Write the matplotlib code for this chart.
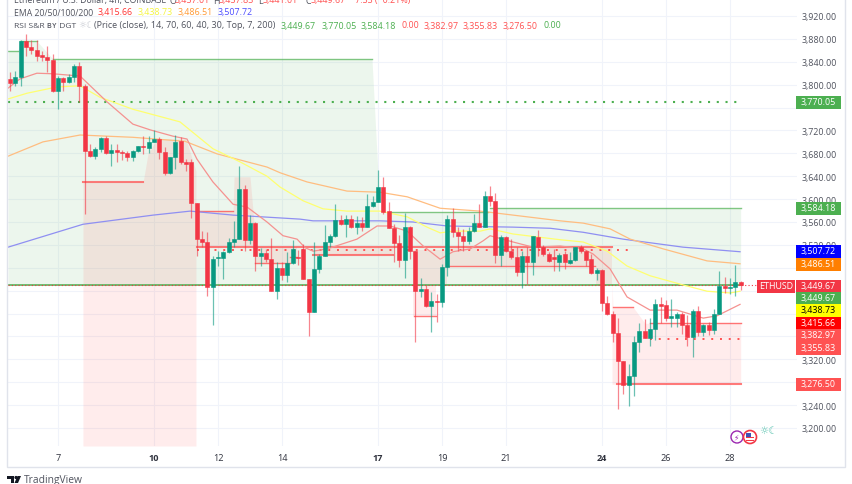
import matplotlib
matplotlib.use("Agg")
import matplotlib.pyplot as plt
from matplotlib.patches import Circle, Polygon, Rectangle
from matplotlib.transforms import Affine2D

# 4h candles, ETHUSD
opens = [3810, 3803, 3813, 3876, 3866, 3861, 3852, 3848, 3843, 3789, 3812, 3805, 3813, 3833, 3798, 3684, 3675, 3688, 3707, 3681,
         3686, 3682, 3681, 3674, 3684, 3693, 3689, 3700, 3705, 3682, 3646, 3674, 3701, 3665, 3665, 3593, 3530, 3525, 3446, 3497,
         3497, 3508, 3525, 3530, 3618, 3529, 3558, 3501, 3506, 3495, 3439, 3480, 3467, 3488, 3499, 3513, 3460, 3403, 3478, 3501,
         3525, 3536, 3563, 3556, 3565, 3551, 3558, 3551, 3588, 3595, 3621, 3579, 3549, 3523, 3494, 3551, 3509, 3439, 3443, 3413,
         3422, 3420, 3481, 3565, 3542, 3536, 3527, 3544, 3558, 3551, 3605, 3597, 3502, 3534, 3509, 3499, 3473, 3501, 3490, 3534,
         3516, 3504, 3499, 3490, 3504, 3488, 3494, 3516, 3509, 3495, 3471, 3476, 3418, 3399, 3366, 3317, 3275, 3291, 3350, 3369,
         3357, 3373, 3417, 3415, 3392, 3392, 3399, 3380, 3359, 3404, 3368, 3380, 3371, 3399, 3448, 3445, 3446, 3455]
highs = [3822, 3824, 3878, 3888, 3878, 3878, 3859, 3868, 3854, 3815, 3813, 3819, 3836, 3840, 3801, 3696, 3691, 3708, 3710, 3696,
         3696, 3686, 3684, 3686, 3693, 3710, 3710, 3721, 3708, 3691, 3674, 3712, 3708, 3670, 3670, 3593, 3544, 3542, 3501, 3509,
         3509, 3532, 3562, 3658, 3625, 3572, 3560, 3515, 3513, 3532, 3490, 3490, 3508, 3529, 3511, 3522, 3460, 3525, 3504, 3555,
         3539, 3591, 3572, 3572, 3572, 3570, 3569, 3609, 3605, 3651, 3639, 3595, 3556, 3537, 3576, 3553, 3509, 3462, 3450, 3438,
         3434, 3487, 3572, 3584, 3551, 3548, 3551, 3574, 3591, 3614, 3623, 3611, 3537, 3536, 3530, 3516, 3509, 3516, 3536, 3546,
         3520, 3508, 3513, 3506, 3509, 3508, 3516, 3520, 3511, 3504, 3480, 3478, 3431, 3404, 3392, 3317, 3312, 3361, 3383, 3390,
         3392, 3425, 3429, 3424, 3425, 3403, 3403, 3397, 3408, 3413, 3382, 3385, 3408, 3474, 3464, 3462, 3485, 3457]
lows = [3789, 3798, 3798, 3850, 3854, 3841, 3841, 3822, 3787, 3757, 3789, 3803, 3805, 3770, 3574, 3674, 3670, 3682, 3679, 3658,
        3665, 3668, 3667, 3667, 3682, 3679, 3681, 3700, 3670, 3642, 3644, 3653, 3661, 3649, 3567, 3501, 3516, 3431, 3380, 3483,
        3460, 3506, 3516, 3530, 3509, 3522, 3474, 3483, 3490, 3439, 3425, 3459, 3455, 3487, 3485, 3460, 3361, 3403, 3471, 3501,
        3516, 3534, 3555, 3534, 3549, 3539, 3544, 3551, 3586, 3595, 3574, 3549, 3490, 3481, 3462, 3495, 3350, 3429, 3411, 3368,
        3385, 3411, 3466, 3534, 3509, 3509, 3522, 3542, 3551, 3551, 3588, 3488, 3483, 3508, 3495, 3466, 3445, 3452, 3467, 3501,
        3501, 3490, 3474, 3474, 3478, 3487, 3492, 3506, 3483, 3469, 3459, 3404, 3397, 3350, 3233, 3259, 3238, 3256, 3333, 3357,
        3343, 3354, 3383, 3387, 3376, 3376, 3364, 3343, 3324, 3361, 3361, 3362, 3364, 3399, 3436, 3434, 3431, 3441]
closes = [3803, 3813, 3876, 3866, 3861, 3850, 3848, 3843, 3789, 3812, 3805, 3813, 3833, 3798, 3684, 3675, 3688, 3707, 3681, 3686,
          3682, 3681, 3674, 3684, 3693, 3691, 3700, 3705, 3682, 3646, 3674, 3700, 3665, 3661, 3593, 3530, 3525, 3446, 3495, 3499,
          3508, 3525, 3530, 3618, 3529, 3558, 3501, 3506, 3495, 3439, 3480, 3467, 3488, 3513, 3497, 3460, 3403, 3478, 3501, 3525,
          3536, 3563, 3556, 3565, 3551, 3558, 3551, 3588, 3595, 3621, 3577, 3549, 3523, 3494, 3551, 3509, 3439, 3443, 3413, 3422,
          3420, 3481, 3565, 3542, 3536, 3527, 3544, 3558, 3551, 3605, 3597, 3502, 3534, 3509, 3499, 3473, 3501, 3490, 3536, 3516,
          3504, 3492, 3495, 3502, 3490, 3494, 3516, 3509, 3494, 3471, 3476, 3418, 3399, 3366, 3317, 3275, 3291, 3350, 3369, 3357,
          3373, 3417, 3413, 3392, 3396, 3399, 3380, 3359, 3404, 3368, 3380, 3371, 3399, 3448, 3445, 3446, 3455, 3449.67]

# EMA lines, x in days of the month
ema20_x = [5.44, 5.81, 6.34, 6.84, 7.69, 8.53, 9.34, 9.88, 10.59, 11.03, 11.34, 11.84, 12.47, 12.91, 13.53, 14.03, 14.47, 14.72, 14.97, 15.41,
           16.34, 16.97, 17.38, 17.91, 18.41, 18.94, 19.34, 19.88, 20.28, 20.5, 21.22, 21.84, 22.69, 23.41, 23.72, 24.25, 24.78, 25.5, 26.34, 27.16, 27.59, 28.31]
ema20_y = [3794, 3810, 3820, 3819, 3815, 3770, 3731, 3721, 3710, 3705, 3670, 3630, 3591, 3586, 3560, 3536, 3530, 3515, 3509, 3513,
           3530, 3553, 3553, 3544, 3518, 3495, 3508, 3513, 3527, 3536, 3525, 3516, 3518, 3513, 3504, 3478, 3429, 3406, 3406, 3392, 3396, 3416]
ema50_x = [5.44, 6.03, 6.97, 7.69, 8.31, 9.34, 10.81, 11.84, 12.69, 13.53, 13.94, 14.66, 15.28, 16.03, 17.06, 17.91, 18.53, 18.94, 19.34, 20.19,
           20.5, 21.22, 22.69, 23.41, 24.16, 24.78, 25.5, 26.53, 27.28, 28.0, 28.31]
ema50_y = [3775, 3785, 3796, 3798, 3778, 3757, 3735, 3688, 3665, 3640, 3621, 3597, 3583, 3579, 3579, 3569, 3551, 3541, 3544, 3544,
           3548, 3539, 3529, 3525, 3509, 3483, 3466, 3450, 3439, 3436, 3439]
ema100_x = [5.44, 6.53, 7.69, 9.34, 10.97, 11.97, 13.53, 13.94, 14.78, 16.03, 17.06, 17.91, 18.94, 20.19, 21.22, 22.69, 23.41, 24.25, 24.88, 25.91, 27.28, 28.31]
ema100_y = [3675, 3700, 3712, 3708, 3701, 3679, 3656, 3646, 3630, 3614, 3612, 3604, 3584, 3579, 3572, 3562, 3558, 3548, 3530, 3513, 3492, 3487]
ema200_x = [5.44, 7.78, 9.97, 11.13, 12.47, 14.56, 14.97, 17.06, 18.09, 19.16, 21.22, 22.38, 23.41, 24.66, 26.53, 28.31]
ema200_y = [3516, 3556, 3572, 3579, 3572, 3565, 3562, 3562, 3560, 3553, 3551, 3549, 3542, 3530, 3516, 3508]

last_price = 3449.67
resistance = 3770.05

# green S&R zone above the last price
green_x = [5.44, 5.75, 5.81, 6.34, 6.84, 16.81, 17.0, 17.03, 20.44, 20.5, 28.33]
green_top = [3859, 3859, 3876, 3876, 3845, 3845, 3642, 3577, 3577, 3584, 3584]

# red zones: x, top, bottom
red_zones = [
    ([7.78, 9.66, 9.81, 10.09, 11.0, 11.31], [3630, 3630, 3679, 3705, 3705, 3649], [3168.5] * 6),
    ([11.31, 12.47, 12.5, 12.63, 13.0, 13.19], [3579, 3579, 3639, 3639, 3639, 3516], [3516] * 6),
    ([13.16, 14.47], [3516, 3516], [3488, 3488]),
    ([14.97, 17.47], [3515, 3515], [3502, 3502]),
    ([18.09, 18.81, 18.81, 19.16], [3511] * 4, [3396, 3396, 3450, 3450]),
    ([19.16, 24.31], [3516, 3516], [3483, 3483]),
    ([23.81, 24.31], [3483, 3483], [3450, 3450]),
    ([24.31, 24.34, 24.97, 25.34, 25.5, 28.33], [3450, 3411, 3411, 3383, 3383, 3383], [3276.5] * 6),
]

# level lines: start day, end day, price
green_levels = [(5.44, 5.75, 3859), (5.81, 6.34, 3876), (6.84, 16.81, 3845), (17.38, 20.44, 3577), (20.5, 28.33, 3584.18)]
red_thin = [(11.34, 12.47, 3579), (13.16, 14.25, 3488), (14.25, 14.47, 3499), (18.13, 18.81, 3396),
            (19.16, 23.78, 3483), (24.34, 24.97, 3411), (25.5, 28.33, 3382.97)]
red_thick = [(7.78, 9.66, 3630), (11.34, 24.31, 3516), (14.97, 17.47, 3502), (24.47, 28.33, 3276.5)]
red_dotted = [(11.34, 24.88, 3511), (25.5, 28.33, 3355.83)]

price_ticks = list(range(3200, 3921, 40))
hidden_ticks = [3280, 3360, 3400, 3440, 3480, 3760]
day_ticks = [7, 10, 12, 14, 17, 19, 21, 24, 26, 28]

# boxes on the price scale
box_labels = ["3,770.05", "3,584.18", "3,507.72", "3,486.51", "3,449.67", "3,449.67", "3,438.73", "3,415.66", "3,382.97", "3,355.83", "3,276.50"]

FONT = ["Open Sans", "DejaVu Sans"]
plt.rcParams["font.family"] = FONT
TXT = "#50535e"
UP = "#089981"
DOWN = "#f23645"

fig = plt.figure(figsize=(8.52, 4.85), dpi=100)
px = Affine2D().scale(1 / 852, -1 / 485).translate(0, 1) + fig.transFigure
ax = fig.add_axes([8 / 852, 1 - 447 / 485, 789 / 852, 447 / 485])

ax.set_xlim(5.4375, 30.09)
ax.set_ylim(3168.5, 3949.7)
for s in ax.spines.values():
    s.set_visible(False)
ax.set_axisbelow(True)
ax.grid(color="#f0f3fa", lw=0.8)
ax.set_yticks(price_ticks)
ax.set_yticklabels(["" if p in hidden_ticks else f"{p:,.2f}" for p in price_ticks], color=TXT, fontsize=6.4)
ax.yaxis.tick_right()
ax.tick_params(axis="y", length=0, pad=3)
ax.set_xticks(day_ticks)
ax.set_xticklabels([str(d) for d in day_ticks], fontsize=6.6, color="#30333e")
ax.tick_params(axis="x", length=0, pad=5)
for lab, d in zip(ax.get_xticklabels(), day_ticks):
    if d in (10, 17, 24):
        lab.set_fontweight("bold")

# zones
ax.fill_between(green_x, green_top, last_price, color="#4caf50", alpha=0.1, lw=0, zorder=1)
for zx, ztop, zbot in red_zones:
    ax.fill_between(zx, ztop, zbot, color="#ff5252", alpha=0.11, lw=0, zorder=1.1)

# levels
for x0, x1, p in green_levels:
    ax.plot([x0, x1], [p, p], color="#4caf50", lw=1, alpha=0.7, zorder=1.5)
for x0, x1, p in red_thin:
    ax.plot([x0, x1], [p, p], color="#ff5252", lw=1, alpha=0.8, zorder=1.5)
for x0, x1, p in red_thick:
    ax.plot([x0, x1], [p, p], color="#ff5252", lw=1.5, alpha=0.75, zorder=1.5)
for x0, x1, p in red_dotted:
    ax.plot([x0, x1], [p, p], color="#ff5252", lw=1.4, ls=(0, (1, 3.5)), zorder=1.5)
ax.plot([5.44, 28.33], [resistance, resistance], color="#4caf50", lw=1.5, ls=(0, (1, 3.2)), zorder=1.5)
ax.plot([5.44, 28.33], [last_price, last_price], color="#4caf50", lw=1.1, zorder=1.6)
ax.plot([5.44, 29.2], [last_price, last_price], color=DOWN, lw=0.8, ls=(0, (1, 2)), zorder=1.7)

# emas
ax.plot(ema200_x, ema200_y, color="#8f8ff2", lw=0.9, zorder=2)
ax.plot(ema100_x, ema100_y, color="#ffbd80", lw=0.9, zorder=2)
ax.plot(ema50_x, ema50_y, color="#ffff70", lw=0.9, zorder=2)
ax.plot(ema20_x, ema20_y, color="#f59290", lw=0.9, zorder=2)

# candles
days = [7 + (i - 9) / 6 for i in range(len(opens))]
for d, o, h, l, c in zip(days, opens, highs, lows, closes):
    col = UP if c >= o else DOWN
    ax.vlines(d, l, h, color=col, lw=0.9, alpha=0.6, zorder=3)
    ax.bar(d, abs(c - o), bottom=min(o, c), width=0.125, color=col, edgecolor=col, lw=0.4, zorder=3.1)


# outer frame
fig.add_artist(Rectangle((7, -3), 838, 471, transform=px, fill=False, ec="#e0e3eb", lw=1, zorder=0.5))


def box(x0, x1, yc, label, fc, tc="white"):
    fig.add_artist(Rectangle((x0, yc - 6.5), x1 - x0, 13, transform=px, fc=fc, ec="none", zorder=5))
    fig.text((x0 + x1) / 2, yc, label, transform=px, ha="center", va="center", color=tc, fontsize=6.4, zorder=6)


box_y = [103, 209, 252, 265, 287, 299, 311, 324, 336, 349, 385]
box_col = ["#4caf50", "#4caf50", "#0000ff", "#ff7f00", DOWN, "#4caf50", "#ffff00", "#ff0000", "#ff5252", "#ff5252", "#ff5252"]
for y, lab, col in zip(box_y, box_labels, box_col):
    box(796, 841, y, lab, col, "black" if col == "#ffff00" else "white")
box(757, 795, 287, "ETHUSD", DOWN)


def legend(x, y, s, color=TXT, size=6.4):
    fig.text(x, y, s, transform=px, ha="left", va="center", color=color, fontsize=size, zorder=6)


# legend rows
legend(14, 1, "Ethereum / U.S. Dollar, 4h, COINBASE", size=6.3)
for x, s in [(169, "O"), (213, "H"), (258, "L"), (305, "C")]:
    legend(x, 1, s)
for x, s in [(175, "3,457.01"), (219, "3,457.83"), (263, "3,441.01"), (311, "3,449.67"), (350, "−7.33 (−0.21%)")]:
    legend(x, 1, s, "#ff5252")
legend(14, 13, "EMA 20/50/100/200", size=6.2)
for x, s, col in [(98, "3,415.66", "#ff3333"), (138, "3,438.73", "#f5f53d"), (178, "3,486.51", "#ff9933"), (218, "3,507.72", "#4d4dff")]:
    legend(x, 13, s, col)
legend(14, 26, "RSI S&R ʙʏ DGT", size=6.1)
legend(78, 26, "☼☾", "#c5c8d0")
legend(94, 26, "(Price (close), 14, 70, 60, 40, 30, Top, 7, 200)", size=6.5)
for x, s, col in [(281, "3,449.67", "#4caf50"), (322, "3,770.05", "#4caf50"), (361, "3,584.18", "#4caf50"), (401, "0.00", "#ff5252"),
                  (424, "3,382.97", "#ff5252"), (463, "3,355.83", "#ff5252"), (503, "3,276.50", "#ff5252"), (543, "0.00", "#4caf50")]:
    legend(x, 26, s, col)

# event icons bottom right
fig.add_artist(Circle((737, 438), 6, transform=px, fc="white", ec="#9c27b0", lw=1, zorder=5))
fig.text(736, 438, "⚡", transform=px, ha="center", va="center", color="#9c27b0", fontsize=5.5, family="DejaVu Sans", zorder=6)
fig.add_artist(Circle((750, 438), 6.5, transform=px, fc="white", ec="#f23645", lw=1.2, zorder=6))
fig.add_artist(Rectangle((746, 437.5), 8, 1.4, transform=px, fc="#f23645", ec="none", zorder=6.1))
fig.add_artist(Rectangle((746, 440.5), 8, 1.4, transform=px, fc="#f23645", ec="none", zorder=6.1))
fig.add_artist(Rectangle((746, 434), 5, 3.5, transform=px, fc="#3f51b5", ec="none", zorder=6.1))
fig.text(768, 431, "☼☾", transform=px, ha="center", va="center", color="#5cc4b0", fontsize=7.5, family="DejaVu Sans", zorder=6)

# TradingView logo
fig.add_artist(Polygon([(7, 477), (14, 477), (14, 484), (10.5, 484), (10.5, 480), (7, 480)], transform=px, fc="#131722", ec="none"))
fig.add_artist(Circle((16, 478.5), 1.6, transform=px, fc="#131722", ec="none"))
fig.add_artist(Polygon([(14.5, 484), (17.5, 477), (21, 477), (18, 484)], transform=px, fc="#131722", ec="none"))
fig.text(24, 480.5, "TradingView", transform=px, ha="left", va="center", color=TXT, fontsize=7.4)

fig.savefig("out.png", dpi=100)
